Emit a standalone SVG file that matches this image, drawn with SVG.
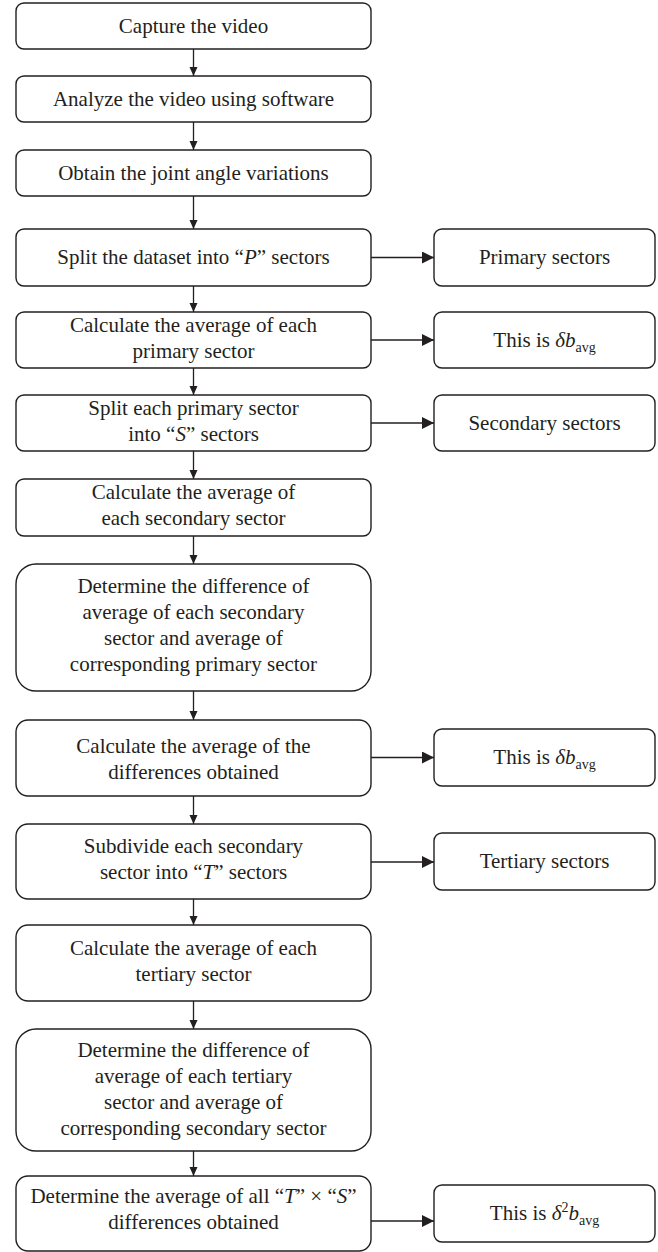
<svg xmlns="http://www.w3.org/2000/svg" width="658" height="1252" viewBox="0 0 658 1252">
<style>
.b{fill:#fff;stroke:#231f20;stroke-width:1.4}
.t{font-family:"Liberation Serif","Times New Roman",serif;font-size:21px;fill:#231f20;text-anchor:middle}
.c{stroke:#231f20;stroke-width:1.3;fill:none}
.i{font-style:italic}
</style>
<defs>
<marker id="av" markerUnits="userSpaceOnUse" markerWidth="10" markerHeight="10" refX="9" refY="4" orient="auto">
<path d="M0,0 L9,4 L0,8 Z" fill="#231f20"/>
</marker>
<marker id="ah" markerUnits="userSpaceOnUse" markerWidth="14" markerHeight="14" refX="12" refY="6" orient="auto">
<path d="M0,0 L12,6 L0,12 Z" fill="#231f20"/>
</marker>
</defs>
<rect width="658" height="1252" fill="#fff"/>
<g id="connectors">
<line class="c" x1="193.5" y1="49" x2="193.5" y2="76" marker-end="url(#av)"/>
<line class="c" x1="193.5" y1="122" x2="193.5" y2="150" marker-end="url(#av)"/>
<line class="c" x1="193.5" y1="196" x2="193.5" y2="229" marker-end="url(#av)"/>
<line class="c" x1="193.5" y1="286" x2="193.5" y2="312" marker-end="url(#av)"/>
<line class="c" x1="193.5" y1="368" x2="193.5" y2="395" marker-end="url(#av)"/>
<line class="c" x1="193.5" y1="451" x2="193.5" y2="479" marker-end="url(#av)"/>
<line class="c" x1="193.5" y1="536" x2="193.5" y2="564" marker-end="url(#av)"/>
<line class="c" x1="193.5" y1="691" x2="193.5" y2="720" marker-end="url(#av)"/>
<line class="c" x1="193.5" y1="796" x2="193.5" y2="824" marker-end="url(#av)"/>
<line class="c" x1="193.5" y1="899" x2="193.5" y2="925" marker-end="url(#av)"/>
<line class="c" x1="193.5" y1="1001" x2="193.5" y2="1029" marker-end="url(#av)"/>
<line class="c" x1="193.5" y1="1151" x2="193.5" y2="1176" marker-end="url(#av)"/>
<line class="c" x1="371" y1="257.5" x2="434" y2="257.5" marker-end="url(#ah)"/>
<line class="c" x1="371" y1="340" x2="434" y2="340" marker-end="url(#ah)"/>
<line class="c" x1="371" y1="423" x2="434" y2="423" marker-end="url(#ah)"/>
<line class="c" x1="371" y1="757.5" x2="434" y2="757.5" marker-end="url(#ah)"/>
<line class="c" x1="371" y1="862" x2="434" y2="862" marker-end="url(#ah)"/>
<line class="c" x1="371" y1="1221" x2="434" y2="1221" marker-end="url(#ah)"/>
</g>
<g id="n1"><rect class="b" x="16" y="3" width="355" height="46" rx="8"/><text class="t" x="193.5" y="33">Capture the video</text></g>
<g id="n2"><rect class="b" x="16" y="76" width="355" height="46" rx="8"/><text class="t" x="193.5" y="106">Analyze the video using software</text></g>
<g id="n3"><rect class="b" x="16" y="150" width="355" height="46" rx="8"/><text class="t" x="193.5" y="180">Obtain the joint angle variations</text></g>
<g id="n4"><rect class="b" x="16" y="229" width="355" height="57" rx="8"/><text class="t" x="193.5" y="264">Split the dataset into “<tspan class="i">P</tspan>” sectors</text></g>
<g id="n5"><rect class="b" x="16" y="312" width="355" height="56" rx="8"/><text class="t" x="193.5" y="332">Calculate the average of each</text><text class="t" x="193.5" y="358">primary sector</text></g>
<g id="n6"><rect class="b" x="16" y="395" width="355" height="56" rx="8"/><text class="t" x="193.5" y="415">Split each primary sector</text><text class="t" x="193.5" y="441">into “<tspan class="i">S</tspan>” sectors</text></g>
<g id="n7"><rect class="b" x="16" y="479" width="355" height="57" rx="8"/><text class="t" x="193.5" y="499">Calculate the average of</text><text class="t" x="193.5" y="525">each secondary sector</text></g>
<g id="n8"><rect class="b" x="16" y="564" width="355" height="127" rx="20"/><text class="t" x="193.5" y="593">Determine the difference of</text><text class="t" x="193.5" y="619">average of each secondary</text><text class="t" x="193.5" y="645">sector and average of</text><text class="t" x="193.5" y="671">corresponding primary sector</text></g>
<g id="n9"><rect class="b" x="16" y="720" width="355" height="76" rx="12"/><text class="t" x="193.5" y="753">Calculate the average of the</text><text class="t" x="193.5" y="779">differences obtained</text></g>
<g id="n10"><rect class="b" x="16" y="824" width="355" height="75" rx="12"/><text class="t" x="193.5" y="853">Subdivide each secondary</text><text class="t" x="193.5" y="879">sector into “<tspan class="i">T</tspan>” sectors</text></g>
<g id="n11"><rect class="b" x="16" y="925" width="355" height="76" rx="12"/><text class="t" x="193.5" y="955">Calculate the average of each</text><text class="t" x="193.5" y="981">tertiary sector</text></g>
<g id="n12"><rect class="b" x="16" y="1029" width="355" height="122" rx="20"/><text class="t" x="193.5" y="1057">Determine the difference of</text><text class="t" x="193.5" y="1083">average of each tertiary</text><text class="t" x="193.5" y="1109">sector and average of</text><text class="t" x="193.5" y="1135">corresponding secondary sector</text></g>
<g id="n13"><rect class="b" x="16" y="1176" width="355" height="75" rx="12"/><text class="t" x="193.5" y="1203">Determine the average of all “<tspan class="i">T</tspan>” × “<tspan class="i">S</tspan>”</text><text class="t" x="193.5" y="1229">differences obtained</text></g>
<g id="r1"><rect class="b" x="434" y="229" width="221" height="57" rx="8"/><text class="t" x="544.5" y="264">Primary sectors</text></g>
<g id="r2"><rect class="b" x="434" y="312" width="221" height="56" rx="8"/><text class="t" x="544.5" y="347">This is <tspan class="i">δb</tspan><tspan font-size="14" dy="5">avg</tspan></text></g>
<g id="r3"><rect class="b" x="434" y="395" width="221" height="56" rx="8"/><text class="t" x="544.5" y="430">Secondary sectors</text></g>
<g id="r4"><rect class="b" x="434" y="729" width="221" height="57" rx="8"/><text class="t" x="544.5" y="764">This is <tspan class="i">δb</tspan><tspan font-size="14" dy="5">avg</tspan></text></g>
<g id="r5"><rect class="b" x="434" y="833" width="221" height="57" rx="8"/><text class="t" x="544.5" y="868">Tertiary sectors</text></g>
<g id="r6"><rect class="b" x="434" y="1185" width="221" height="57" rx="8"/><text class="t" x="544.5" y="1220">This is <tspan class="i">δ</tspan><tspan font-size="14" dy="-8">2</tspan><tspan class="i" dy="8">b</tspan><tspan font-size="14" dy="5">avg</tspan></text></g>
</svg>
